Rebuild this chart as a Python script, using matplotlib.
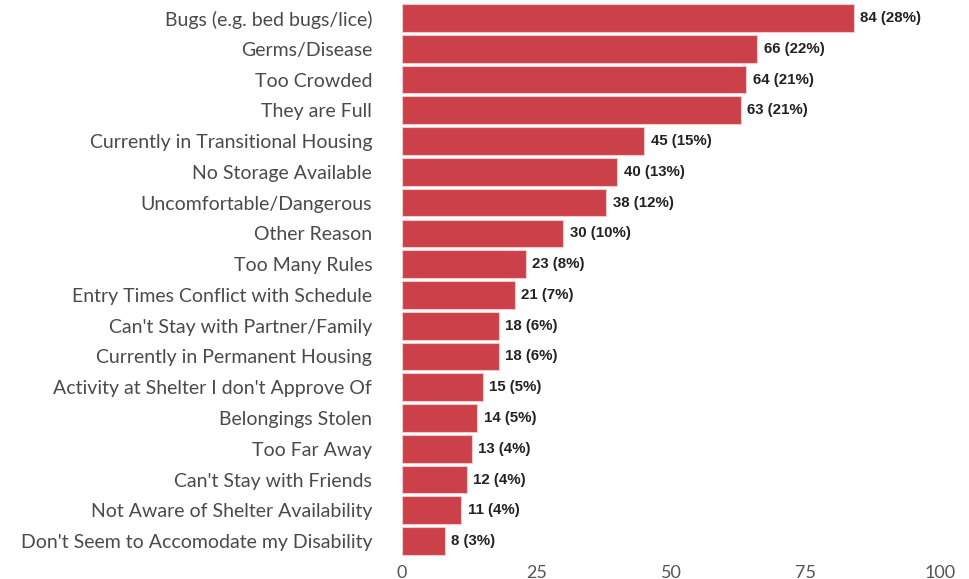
import matplotlib
matplotlib.use("Agg")
import matplotlib.pyplot as plt

categories = [
    "Bugs (e.g. bed bugs/lice)",
    "Germs/Disease",
    "Too Crowded",
    "They are Full",
    "Currently in Transitional Housing",
    "No Storage Available",
    "Uncomfortable/Dangerous",
    "Other Reason",
    "Too Many Rules",
    "Entry Times Conflict with Schedule",
    "Can't Stay with Partner/Family",
    "Currently in Permanent Housing",
    "Activity at Shelter I don't Approve Of",
    "Belongings Stolen",
    "Too Far Away",
    "Can't Stay with Friends",
    "Not Aware of Shelter Availability",
    "Don't Seem to Accomodate my Disability",
]
counts = [84, 66, 64, 63, 45, 40, 38, 30, 23, 21, 18, 18, 15, 14, 13, 12, 11, 8]
percents = [28, 22, 21, 21, 15, 13, 12, 10, 8, 7, 6, 6, 5, 5, 4, 4, 4, 3]
x_ticks = [0, 25, 50, 75, 100]

fig = plt.figure(figsize=(9.7, 5.79), dpi=100)
ax = fig.add_axes([402 / 970, 0.039, 538 / 970, 0.9565])

y = list(range(len(categories)))
ax.barh(y, counts, height=0.9, color="#cc4149", edgecolor="#f2c9cb", linewidth=0.8)

for yi, c, p in zip(y, counts, percents):
    ax.text(c + 1.2, yi, f"{c} ({p}%)", va="center", ha="left",
            fontsize=10.8, fontweight="bold", family="Liberation Sans", color="#222222")

ax.set_ylim(len(categories) - 0.5, -0.5)
ax.set_xlim(0, 100)
ax.set_yticks(y)
ax.set_yticklabels(categories, fontsize=14, family="Lato", color="#4a4a4a")
ax.set_xticks(x_ticks)
ax.set_xticklabels([str(t) for t in x_ticks], fontsize=13, family="Lato", color="#555555")
ax.tick_params(axis="y", length=0, pad=21.5)
ax.tick_params(axis="x", length=0, pad=6)
for s in ax.spines.values():
    s.set_visible(False)

fig.savefig("out.png", dpi=100)
